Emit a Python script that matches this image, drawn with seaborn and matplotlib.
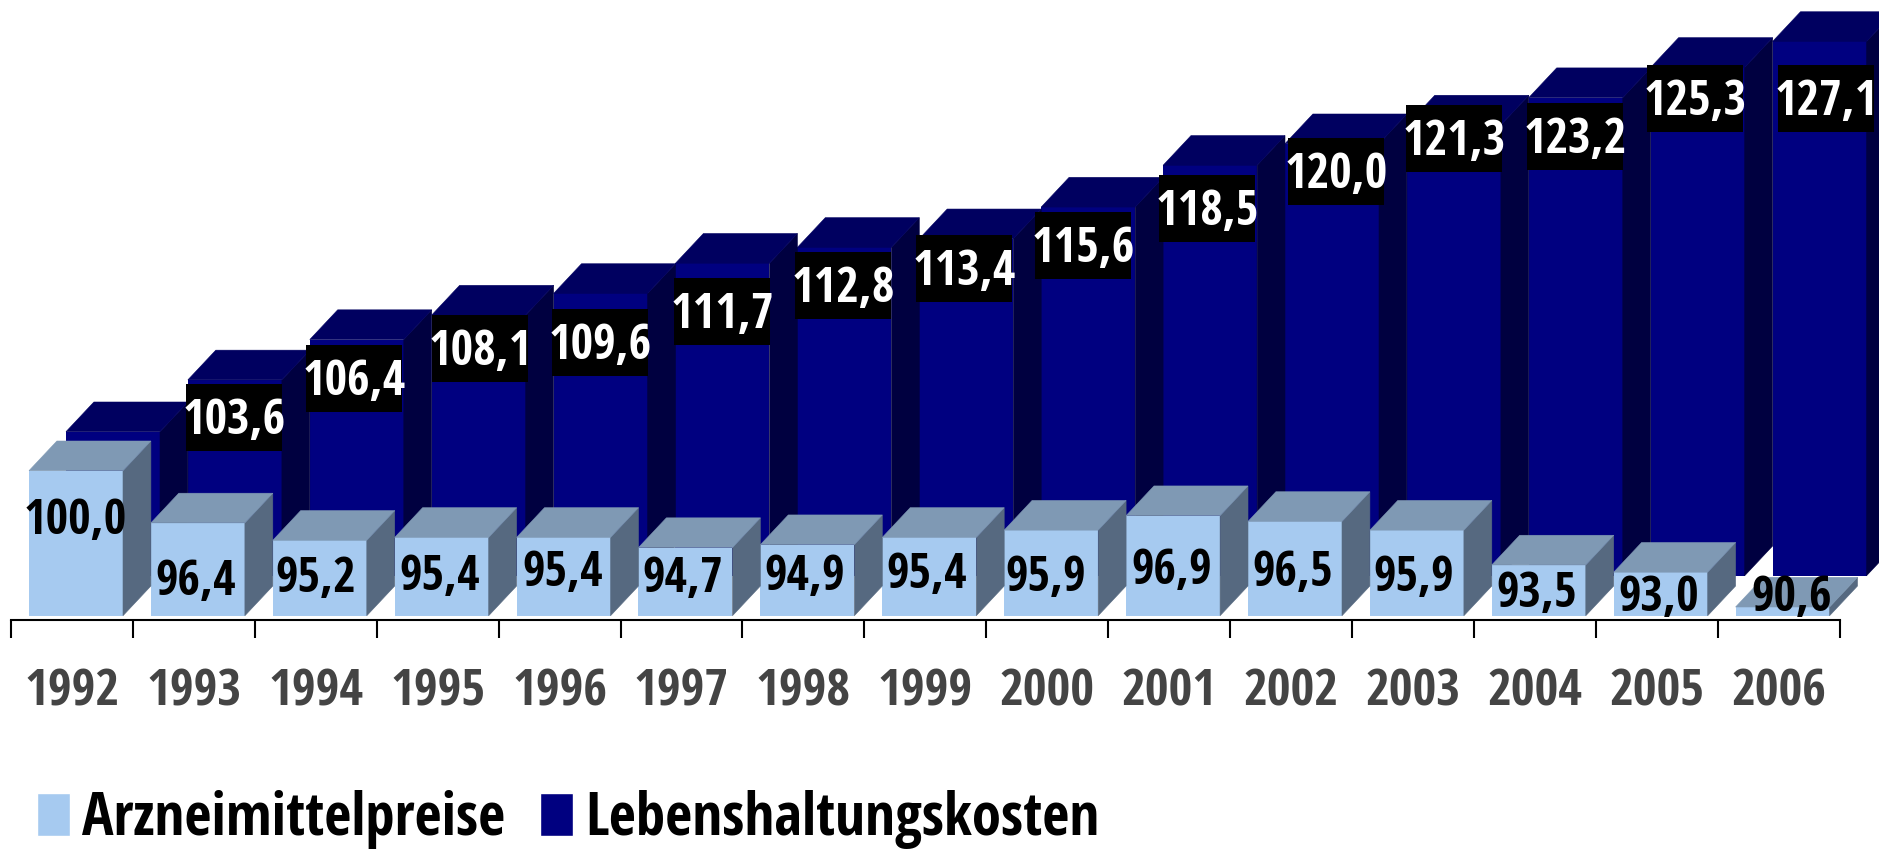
import pandas as pd
import matplotlib
matplotlib.use("Agg")
import matplotlib.pyplot as plt
from matplotlib.patches import Polygon, Rectangle, Patch
import seaborn as sns

years = ["1992", "1993", "1994", "1995", "1996", "1997", "1998", "1999",
         "2000", "2001", "2002", "2003", "2004", "2005", "2006"]
arznei = [100.0, 96.4, 95.2, 95.4, 95.4, 94.7, 94.9, 95.4,
          95.9, 96.9, 96.5, 95.9, 93.5, 93.0, 90.6]
leben = [100.0, 103.6, 106.4, 108.1, 109.6, 111.7, 112.8, 113.4,
         115.6, 118.5, 120.0, 121.3, 123.2, 125.3, 127.1]

# label centres in image pixels, hand placed in the original too
arznei_label_xy = [(75, 517), (196, 578), (316, 575), (440, 573), (563, 569),
                   (683, 575), (805, 573), (927, 571), (1046, 574), (1172, 567),
                   (1293, 569), (1414, 574), (1537, 590), (1659, 594), (1792, 594)]
leben_label_xy = [(234, 417), (354, 378), (480, 348), (600, 342), (722, 311),
                  (843, 285), (964, 268), (1083, 245), (1207, 208), (1336, 171),
                  (1454, 138), (1575, 136), (1695, 98), (1826, 98)]

W, H = 1879, 850
PITCH = 121.9        # px per category
UNIT_BACK = 14.4     # px per index point
UNIT_FRONT = 14.5
BASE = 90
DEPTH_X, DEPTH_Y = 27.9, 29.7

LIGHT, LIGHT_TOP, LIGHT_SIDE = "#A6CAF0", "#7F99B4", "#566980"
DARK, DARK_TOP, DARK_SIDE = "#000080", "#000060", "#000040"
FONT = ["Open Sans Condensed", "Roboto Condensed", "Liberation Sans"]

sns.set_theme(style="white")
plt.rcParams["font.family"] = FONT
plt.rcParams["font.weight"] = "bold"

df = pd.DataFrame({"year": years * 2,
                   "wert": arznei + leben,
                   "reihe": ["Arzneimittelpreise"] * 15 + ["Lebenshaltungskosten"] * 15})

fig = plt.figure(figsize=(W / 100, H / 100), dpi=100)


def make_axes(left_px, base_px):
    ax = fig.add_axes([left_px / W, (H - base_px) / H, 1, base_px / H])
    ax.patch.set_visible(False)
    return ax


def draw_series(ax, reihe, front, top, side, center_px, unit):
    sns.barplot(data=df[df["reihe"] == reihe], x="year", y="wert", order=years,
                color=front, saturation=1, width=94 / PITCH, errorbar=None,
                linewidth=0, ax=ax)
    ax.set_xlim(-center_px / PITCH, (W - center_px) / PITCH)
    ax_h = ax.get_position().height * H
    ax.set_ylim(BASE, BASE + ax_h / unit)
    dx, dy = DEPTH_X / PITCH, DEPTH_Y / unit
    for bar in list(ax.patches):
        x0, x1, t = bar.get_x(), bar.get_x() + bar.get_width(), bar.get_height()
        ax.add_patch(Polygon([(x1, BASE), (x1 + dx, BASE + dy), (x1 + dx, t + dy), (x1, t)],
                             facecolor=side, edgecolor=side, linewidth=0.4, clip_on=False))
        ax.add_patch(Polygon([(x0, t), (x0 + dx, t + dy), (x1 + dx, t + dy), (x1, t)],
                             facecolor=top, edgecolor=top, linewidth=0.4, clip_on=False))
    ax.set_xlabel("")
    ax.set_ylabel("")
    ax.yaxis.set_visible(False)
    for s in ["top", "left", "right", "bottom"]:
        ax.spines[s].set_visible(False)


ax_back = make_axes(37, 575.7)
ax_back.set_zorder(1)
draw_series(ax_back, "Lebenshaltungskosten", DARK, DARK_TOP, DARK_SIDE, 76, UNIT_BACK)
ax_back.xaxis.set_visible(False)

ax_front = make_axes(0, 615.7)
ax_front.set_zorder(2)
draw_series(ax_front, "Arzneimittelpreise", LIGHT, LIGHT_TOP, LIGHT_SIDE, 76, UNIT_FRONT)

# axis sits a little under the bars and its intervals are 4 px left of them
shift = -4 / PITCH
ax_front.spines["bottom"].set_visible(True)
ax_front.spines["bottom"].set_color("black")
ax_front.spines["bottom"].set_linewidth(1.5)
ax_front.spines["bottom"].set_position(("outward", 3.2))
ax_front.spines["bottom"].set_bounds(shift - 0.5, shift + 14.5)
ax_front.set_xticks([shift - 0.5 + i for i in range(16)], labels=[""] * 16)
ax_front.tick_params(axis="x", which="major", length=13, width=1.5, color="black",
                     direction="out", bottom=True)
ax_front.set_xticks([shift + i for i in range(15)], labels=years, minor=True)
ax_front.tick_params(axis="x", which="minor", length=0, pad=34, labelsize=37,
                     labelcolor="#444444")

# text layer in image pixels
ax_text = fig.add_axes([0, 0, 1, 1])
ax_text.set_zorder(3)
ax_text.patch.set_visible(False)
ax_text.set_xlim(0, W)
ax_text.set_ylim(H, 0)
ax_text.axis("off")

LABEL_PT = 35
baseline = 0.357 * LABEL_PT * 100 / 72


def fmt(v):
    return f"{v:.1f}".replace(".", ",")


for v, (x, y) in zip(arznei, arznei_label_xy):
    ax_text.text(x, y + baseline, fmt(v), ha="center", va="baseline",
                 fontsize=LABEL_PT, color="black")
for v, (x, y) in zip(leben[1:], leben_label_xy):
    ax_text.add_patch(Rectangle((x - 48, y - 33.5), 96, 67, facecolor="black", edgecolor="none"))
    ax_text.text(x, y + baseline, fmt(v), ha="center", va="baseline",
                 fontsize=LABEL_PT, color="white")

handles = [Patch(facecolor=LIGHT, label="Arzneimittelpreise"),
           Patch(facecolor=DARK, label="Lebenshaltungskosten")]
fig.legend(handles=handles, loc="lower left", bbox_to_anchor=(25 / W, -11 / H), ncols=2,
           frameon=False, fontsize=42.5, labelcolor="black", handlelength=0.56,
           handleheight=0.76, handletextpad=0.2, columnspacing=0.6,
           borderpad=0.2, borderaxespad=0)

fig.savefig("out.png", dpi=100)
